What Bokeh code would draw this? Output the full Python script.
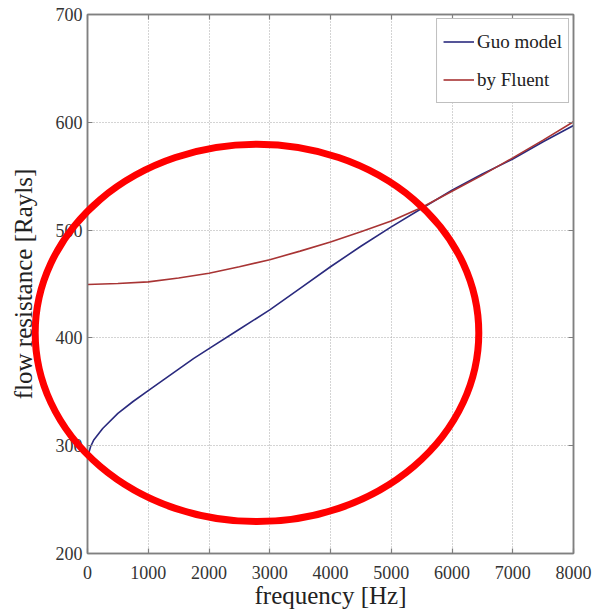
from bokeh.plotting import figure
from bokeh.layouts import column
from bokeh.models import (LinearAxis, Legend, LegendItem, FixedTicker, Range1d)
from bokeh.embed import file_html
from bokeh.resources import INLINE

# Flow resistance vs. frequency: analytic Guo model and Fluent simulation
freq_guo = [0, 50, 100, 250, 500, 750, 1000, 1250, 1500, 1750, 2000, 2500,
            3000, 3500, 4000, 4500, 5000, 5500, 6000, 6500, 7000, 7500, 8000]
res_guo = [289, 299, 305, 316, 330, 341, 351, 361, 371, 381, 390, 408,
           426, 446, 466, 485, 503, 520, 537, 552, 566, 582, 597]

freq_fluent = [0, 500, 1000, 1500, 2000, 2500, 3000, 3500, 4000, 4500,
               5000, 5500, 6000, 6500, 7000, 7500, 8000]
res_fluent = [449.5, 450.5, 452, 455.5, 460, 466, 472.5, 480.5, 489, 498.5,
              508.5, 521, 536, 551, 567, 583.5, 600.5]

x_ticks = [0, 1000, 2000, 3000, 4000, 5000, 6000, 7000, 8000]
y_ticks = [200, 300, 400, 500, 600, 700]

# highlight ring (centre and full width/height in data units)
ring_cx, ring_cy = 2790, 404.6
ring_w, ring_h = 7302, 350

SERIF = "Liberation Serif"
FRAME = "#808080"

# layout of the chart canvas (pixels)
W, H = 595, 614
FW, FH = 486, 539
LEFT, TOP = 87, 14
RIGHT, BOTTOM = W - LEFT - FW, H - TOP - FH
X0, X1, Y0, Y1 = 0, 8000, 200, 700

p = figure(frame_width=FW, frame_height=FH,
           x_range=(X0, X1), y_range=(Y0, Y1),
           output_backend="svg", toolbar_location=None,
           min_border_left=LEFT, min_border_right=RIGHT,
           min_border_top=TOP, min_border_bottom=BOTTOM,
           background_fill_color="white", border_fill_color="white")
p.frame_align = False
p.outline_line_color = FRAME
p.outline_line_width = 1.5

xt = FixedTicker(ticks=x_ticks)
yt = FixedTicker(ticks=y_ticks)
p.xaxis.ticker = xt
p.yaxis.ticker = yt
p.xgrid.ticker = xt
p.ygrid.ticker = yt
p.grid.grid_line_color = "#a8a8a8"
p.grid.grid_line_dash = "1 2"
p.grid.grid_line_width = 1

# mirrored axes on top and right carry only inward ticks
top_ax = LinearAxis(ticker=xt)
right_ax = LinearAxis(ticker=yt)
p.add_layout(top_ax, "above")
p.add_layout(right_ax, "right")

for ax in p.axis:
    ax.axis_line_color = FRAME
    ax.axis_line_width = 1.5
    ax.major_tick_line_color = FRAME
    ax.major_tick_line_width = 1.2
    ax.major_tick_in = 5
    ax.major_tick_out = 0
    ax.minor_tick_line_color = None
    ax.major_label_text_font = SERIF
    ax.major_label_text_font_size = "18px"
    ax.major_label_text_color = "#333333"

top_ax.major_label_overrides = {t: "" for t in x_ticks}
right_ax.major_label_overrides = {t: "" for t in y_ticks}
for ax in (top_ax, right_ax):
    ax.major_label_text_font_size = "1px"
    ax.major_label_standoff = 0

xa = p.below[0]
ya = p.left[0]
xa.major_label_standoff = 12
ya.major_label_standoff = 5
xa.axis_label = "frequency [Hz]"
ya.axis_label = "flow resistance [Rayls]"
for ax in (xa, ya):
    ax.axis_label_text_font = SERIF
    ax.axis_label_text_font_size = "25px"
    ax.axis_label_text_font_style = "normal"
    ax.axis_label_text_color = "#222222"
xa.axis_label_standoff = 0
ya.axis_label_standoff = 16

r_guo = p.line(freq_guo, res_guo, line_color="#2a2a7e", line_width=1.6)
r_fl = p.line(freq_fluent, res_fluent, line_color="#a83434", line_width=1.6)

legend = Legend(items=[LegendItem(label="Guo model", renderers=[r_guo]),
                       LegendItem(label="by Fluent", renderers=[r_fl])],
                location="top_right")
legend.margin = 4
legend.padding = 6
legend.spacing = 5
legend.glyph_width = 31
legend.glyph_height = 33
legend.label_height = 33
legend.label_standoff = 3
legend.label_text_font = SERIF
legend.label_text_font_size = "19px"
legend.label_text_color = "#222222"
legend.border_line_color = FRAME
legend.border_line_width = 1.2
legend.background_fill_color = "white"
legend.background_fill_alpha = 1
p.add_layout(legend)

# transparent overlay spanning the whole canvas, sharing the chart's data
# scale, so the highlight ring may run past the plot frame
sx = FW / (X1 - X0)
sy = FH / (Y1 - Y0)
ov = figure(frame_width=W, frame_height=H,
            x_range=Range1d(X0 - LEFT / sx, X1 + RIGHT / sx),
            y_range=Range1d(Y0 - BOTTOM / sy, Y1 + TOP / sy),
            x_axis_type=None, y_axis_type=None,
            output_backend="svg", toolbar_location=None,
            min_border=0, background_fill_color=None,
            border_fill_color=None, outline_line_color=None)
ov.frame_align = False
ov.grid.visible = False
ov.ellipse(x=[ring_cx], y=[ring_cy], width=[ring_w], height=[ring_h],
           fill_color=None, line_color="#ff0000", line_width=7)
ov.styles = {"position": "absolute", "top": "0px", "left": "0px"}

layout = column(p, ov, spacing=0)
open("out.html", "w").write(file_html(layout, INLINE))
